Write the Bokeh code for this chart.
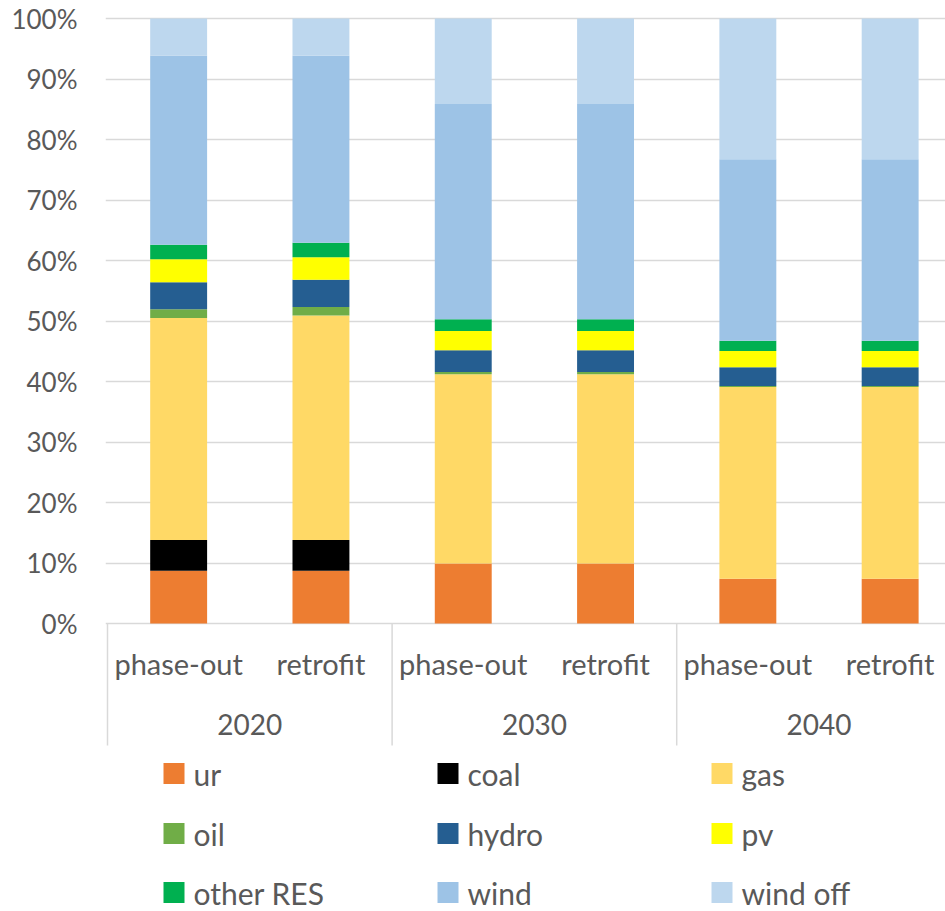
from bokeh.plotting import figure
from bokeh.models import ColumnDataSource, Range1d, FixedTicker, CustomJSTickFormatter
from bokeh.core.properties import value
from bokeh.embed import file_html
from bokeh.resources import INLINE

# Electricity generation mix by scenario (share of total, %)
years = ["2020", "2030", "2040"]
scenarios = ["phase-out", "retrofit"]
sources = ["ur", "coal", "gas", "oil", "hydro", "pv", "other RES", "wind", "wind off"]
colors = ["#ED7D31", "#000000", "#FFD966", "#70AD47", "#255E91",
          "#FFFF00", "#00B050", "#9DC3E6", "#BDD7EE"]

ur = [8.7, 8.7, 9.9, 9.9, 7.4, 7.4]
coal = [5.1, 5.1, 0.0, 0.0, 0.0, 0.0]
gas = [36.7, 37.1, 31.3, 31.3, 31.7, 31.7]
oil = [1.45, 1.4, 0.35, 0.35, 0.15, 0.15]
hydro = [4.45, 4.5, 3.6, 3.6, 3.1, 3.1]
pv = [3.8, 3.75, 3.2, 3.2, 2.7, 2.7]
other_res = [2.4, 2.4, 1.95, 1.95, 1.7, 1.7]
wind = [31.3, 30.9, 35.55, 35.55, 30.0, 30.0]
wind_off = [6.1, 6.15, 14.15, 14.15, 23.25, 23.25]

y_ticks = [0, 10, 20, 30, 40, 50, 60, 70, 80, 90, 100]

# ---- layout geometry (pixels) ----
W, H = 945, 911
LEFT = 105          # frame left edge
TOP = 10            # frame top edge
CAT_PX = 142.3      # width of one category slot
ZERO_PX = 623       # vertical position of 0 %
PX_PER_PCT = 6.05

def dx(px):
    return (px - LEFT - 2) / CAT_PX

def dy(py):
    return (ZERO_PX - py) / PX_PER_PCT

TEXT = "#595959"
GRID = "#D9D9D9"
FONT = value("Lato")

n = len(years) * len(scenarios)
xs = [i + 0.5 for i in range(n)]
source = ColumnDataSource(dict(
    x=xs, ur=ur, coal=coal, gas=gas, oil=oil, hydro=hydro, pv=pv,
    other=other_res, wind=wind, wind_off=wind_off,
))
stack_cols = ["ur", "coal", "gas", "oil", "hydro", "pv", "other", "wind", "wind_off"]

p = figure(width=W, height=H, output_backend="svg", toolbar_location=None,
           x_range=Range1d(dx(LEFT), dx(W)),
           y_range=Range1d(dy(H), dy(TOP)),
           min_border_left=LEFT, min_border_right=0,
           min_border_top=TOP, min_border_bottom=0)
p.outline_line_color = None
p.background_fill_color = "white"
p.border_fill_color = "white"

p.vbar_stack(stack_cols, x="x", width=0.4, source=source,
             color=colors, line_color=None)

# y axis: percent labels only
p.xaxis.visible = False
p.xgrid.visible = False
p.yaxis.ticker = FixedTicker(ticks=y_ticks)
p.yaxis.formatter = CustomJSTickFormatter(code="return tick.toFixed(0) + '%';")
p.yaxis.axis_line_color = None
p.yaxis.major_tick_line_color = None
p.yaxis.minor_tick_line_color = None
p.yaxis.major_label_standoff = 22
p.yaxis.major_label_text_font = "Lato"
p.yaxis.major_label_text_font_size = "26px"
p.yaxis.major_label_text_color = TEXT
p.ygrid.ticker = FixedTicker(ticks=y_ticks)
p.ygrid.grid_line_color = GRID
p.ygrid.grid_line_width = 1.5

# category axis: scenario labels, year labels and group separators
scen_labels = [s for _ in years for s in scenarios]
p.text(x=xs, y=[dy(663)] * n, text=scen_labels, text_font=FONT,
       text_font_size="29px", text_color=TEXT,
       text_align="center", text_baseline="middle")

k = len(scenarios)
year_x = [k * i + k / 2 for i in range(len(years))]
p.text(x=year_x, y=[dy(724)] * len(years), text=years, text_font=FONT,
       text_font_size="28px", text_color=TEXT,
       text_align="center", text_baseline="middle")

sep_x = [k * i for i in range(len(years) + 1)]
p.segment(x0=sep_x, y0=[0] * len(sep_x), x1=sep_x, y1=[dy(745)] * len(sep_x),
          line_color=GRID, line_width=1.5)

# legend: 3 columns, row-major order
col_px = [163, 437, 711]
row_px = [773, 833, 892]
sw = 21
lx0, lx1, ly0, ly1, tx, ty = [], [], [], [], [], []
for i, name in enumerate(sources):
    c, r = i % 3, i // 3
    lx0.append(dx(col_px[c])); lx1.append(dx(col_px[c] + sw))
    ly0.append(dy(row_px[r] + sw / 2)); ly1.append(dy(row_px[r] - sw / 2))
    tx.append(dx(col_px[c] + 30)); ty.append(dy(row_px[r]))
p.quad(left=lx0, right=lx1, bottom=ly0, top=ly1, color=colors, line_color=None)
p.text(x=tx, y=ty, text=sources, text_font=FONT, text_font_size="30px",
       text_color=TEXT, text_align="left", text_baseline="middle")

open("out.html", "w").write(file_html(p, INLINE))
